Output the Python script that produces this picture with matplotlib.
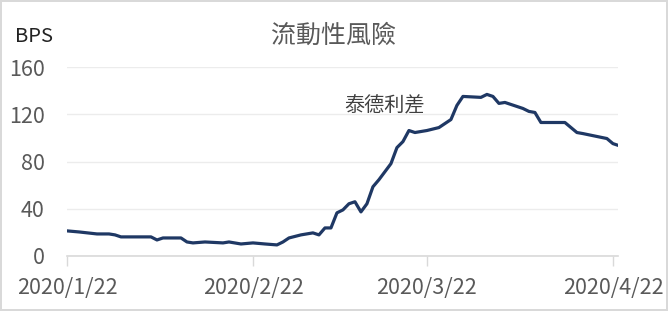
import pandas as pd
import matplotlib.pyplot as plt

plt.rcParams['font.family'] = ['Noto Sans CJK TC', 'DejaVu Sans']

# 泰德利差 (BPS)
dates = ["2020-01-22", "2020-01-24", "2020-01-27", "2020-01-29", "2020-01-30",
         "2020-01-31", "2020-02-05", "2020-02-06", "2020-02-07", "2020-02-10",
         "2020-02-11", "2020-02-12", "2020-02-14", "2020-02-17", "2020-02-18",
         "2020-02-20", "2020-02-22", "2020-02-24", "2020-02-26", "2020-02-27",
         "2020-02-28", "2020-03-01", "2020-03-03", "2020-03-04", "2020-03-05",
         "2020-03-06", "2020-03-07", "2020-03-08", "2020-03-09", "2020-03-10",
         "2020-03-11", "2020-03-12", "2020-03-13", "2020-03-14", "2020-03-16",
         "2020-03-17", "2020-03-18", "2020-03-19", "2020-03-20", "2020-03-22",
         "2020-03-24", "2020-03-26", "2020-03-27", "2020-03-28", "2020-03-31",
         "2020-04-01", "2020-04-02", "2020-04-03", "2020-04-04", "2020-04-07",
         "2020-04-08", "2020-04-09", "2020-04-10", "2020-04-14", "2020-04-16",
         "2020-04-17", "2020-04-21", "2020-04-22", "2020-04-23"]
ted = [21.3, 20.4, 18.7, 18.7, 17.9,
       16.2, 16.2, 13.6, 15.3, 15.3,
       11.9, 11.1, 11.9, 11.1, 11.9,
       10.2, 11.1, 10.2, 9.4, 11.9,
       15.3, 17.9, 19.6, 17.9, 23.8,
       23.8, 36.6, 39.1, 44.3, 46.0,
       37.4, 44.3, 58.7, 64.7, 78.3,
       91.9, 97.0, 106.4, 104.7, 106.4,
       108.9, 115.7, 127.7, 135.3, 134.5,
       137.0, 135.3, 129.4, 130.2, 125.1,
       122.6, 121.7, 113.2, 113.2, 104.7,
       103.8, 99.6, 95.3, 93.6]
x_ticks = ["2020-01-22", "2020-02-22", "2020-03-22", "2020-04-22"]
x_labels = ["2020/1/22", "2020/2/22", "2020/3/22", "2020/4/22"]
y_ticks = [0, 40, 80, 120, 160]

dates = pd.to_datetime(dates)
gray = '#595959'

fig = plt.figure(figsize=(6.68, 3.11), dpi=100)
fig.patch.set_edgecolor('#d9d9d9')
fig.patch.set_linewidth(1.5)
ax = fig.add_axes([67 / 668, 1 - 256 / 311, (618 - 67) / 668, (256 - 67.3) / 311])

ax.plot(dates, ted, color='#1f3864', linewidth=2.3, solid_joinstyle='round')

ax.set_xlim(pd.Timestamp("2020-01-22"), pd.Timestamp("2020-04-22") + pd.Timedelta(days=0.85))
ax.set_ylim(0, 160)
ax.set_yticks(y_ticks)
ax.set_xticks(pd.to_datetime(x_ticks))
ax.set_xticklabels(x_labels)

ax.grid(axis='y', color='#ececec', linewidth=1)
for s in ['top', 'right', 'left']:
    ax.spines[s].set_visible(False)
ax.spines['bottom'].set_color('#d9d9d9')
ax.spines['bottom'].set_linewidth(1.2)
ax.tick_params(axis='y', length=0, pad=16, labelsize=15.5, labelcolor=gray)
ax.tick_params(axis='x', length=7, width=1, color='#d9d9d9', pad=8, labelsize=15.5, labelcolor=gray)
ax.set_axisbelow(True)

fig.text(334 / 668, 1 - 36 / 311, '流動性風險', ha='center', va='center', fontsize=18, color=gray)
fig.text(15 / 668, 1 - 36 / 311, 'BPS', ha='left', va='center', fontsize=14.5, color='#222222')
ax.text(pd.Timestamp("2020-03-15"), 127, '泰德利差', ha='center', va='center', fontsize=14.5, color='#404040')

fig.savefig('out.png', dpi=100)
